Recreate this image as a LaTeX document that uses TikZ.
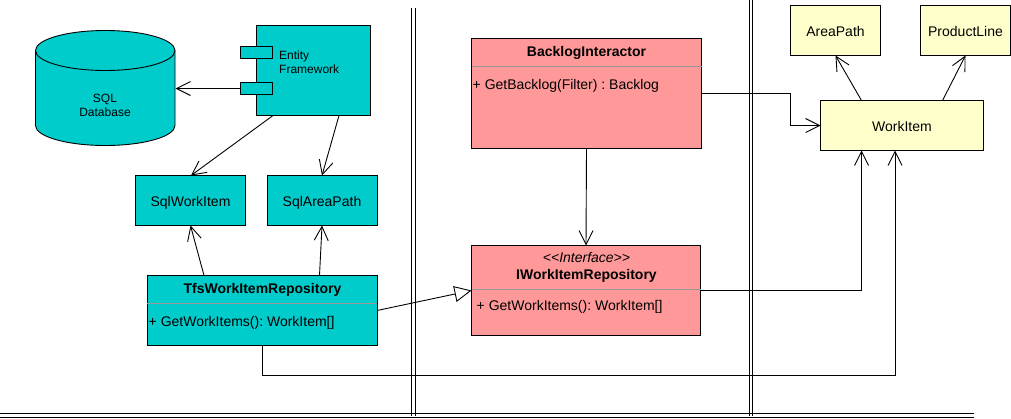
\documentclass[tikz,border=0pt]{standalone}
\usepackage{fontspec}
\setmainfont{Liberation Sans}
\usetikzlibrary{positioning,calc,arrows.meta}
\definecolor{TealFill}{RGB}{0,204,204}
\definecolor{PinkFill}{RGB}{255,153,153}
\definecolor{YellowFill}{RGB}{255,255,204}
\tikzset{
    box/.style={draw=black, line width=0.9pt, inner sep=0pt, outer sep=0pt, text height=11pt, text depth=0pt, font=\fontsize{14}{16}\selectfont},
    teal box/.style={box, fill=TealFill},
    pink box/.style={box, fill=PinkFill},
    yellow box/.style={box, fill=YellowFill},
    small text/.style={inner sep=0pt, align=left, font=\fontsize{12}{14}\selectfont},
    title text/.style={inner sep=0pt, text height=11pt, text depth=0pt, font=\fontsize{14}{16}\selectfont\bfseries},
    method text/.style={inner sep=0pt, anchor=west, text height=11pt, text depth=0pt, font=\fontsize{14}{16}\selectfont\frenchspacing},
    assoc/.style={draw=black, line width=0.9pt, -{Straight Barb[length=14pt,width=14pt]}},
    realize/.style={draw=black, line width=0.9pt, -{Triangle[open,length=17pt,width=16pt]}},
    rule/.style={draw=black, line width=0.9pt},
    slot/.style={draw=gray!80, line width=0.9pt}
}
\begin{document}
\begin{tikzpicture}[x=1pt, y=-1pt]
    \useasboundingbox (0,0) rectangle (1011,418);

    % --- separators ---
    \foreach \xpos/\ystart in {411.5/8, 415.5/8, 749/0, 752.5/0}
        \draw[rule] (\xpos,\ystart) -- (\xpos,415.5);
    \draw[rule] (0,413.5) -- (973.5,413.5);
    \draw[rule] (0,417.5) -- (973.5,417.5);

    % --- database and framework ---
    \draw[rule, fill=TealFill] (35.5,50.5) arc[start angle=180, end angle=360, x radius=69.75, y radius=20]
        -- (175,125.5) arc[start angle=0, end angle=180, x radius=69.75, y radius=20] -- cycle;
    \draw[rule] (35.5,50.5) arc[start angle=180, end angle=0, x radius=69.75, y radius=20];
    \coordinate (sqldb) at (175.5,88.5);
    \node[small text, align=center] (sqldblabel) at (105,105.8) {SQL\\Database};

    \node[teal box, minimum width=114pt, minimum height=90pt] (efw) at (313.5,70.5) {};
    \node[teal box, minimum width=32pt, minimum height=12pt] (efwporta) at (256.5,52.5) {};
    \node[teal box, minimum width=32pt, minimum height=12pt] (efwportb) at (256.5,88.5) {};
    \node[small text, anchor=west] (efwlabel) at (279,62.5) {Entity\\Framework};

    % --- sql classes ---
    \node[teal box, minimum width=110pt, minimum height=50pt] (sqlwork) at (190.5,200.5) {SqlWorkItem};
    \node[teal box, minimum width=110pt, minimum height=50pt] (sqlarea) at (322,200.5) {SqlAreaPath};

    % --- repository ---
    \node[teal box, minimum width=230pt, minimum height=70pt] (tfs) at (262,310.5) {};
    \node[title text] (tfstitle) at (262.5,288) {TfsWorkItemRepository};
    \node[method text] (tfsmethod) at (148.5,320.5) {+ GetWorkItems(): WorkItem[]};
    \draw[slot] ([yshift=-28pt]tfs.north west) -- ([yshift=-28pt]tfs.north east);

    % --- interactor and interface ---
    \node[pink box, minimum width=230pt, minimum height=110pt] (backlog) at (586.5,93.5) {};
    \node[title text] (backlogtitle) at (586.5,50.5) {BacklogInteractor};
    \node[method text] (backlogmethod) at (472.5,84) {+ GetBacklog(Filter) : Backlog};
    \draw[slot] ([yshift=-28pt]backlog.north west) -- ([yshift=-28pt]backlog.north east);

    \node[pink box, minimum width=229pt, minimum height=90pt] (iwork) at (586,290.5) {};
    \node[inner sep=0pt, text height=11pt, text depth=0pt, font=\fontsize{14}{16}\selectfont\itshape] (iworkstereo) at (586.5,257.2) {{<}{<}Interface{>}{>}};
    \node[title text] (iworktitle) at (586.5,273.5) {IWorkItemRepository};
    \node[method text] (iworkmethod) at (476.5,304.5) {+ GetWorkItems(): WorkItem[]};
    \draw[slot] ([yshift=-44pt]iwork.north west) -- ([yshift=-44pt]iwork.north east);

    % --- domain classes ---
    \node[yellow box, minimum width=90pt, minimum height=50pt] (areapath) at (835.5,30.5) {AreaPath};
    \node[yellow box, minimum width=90pt, minimum height=50pt] (productline) at (965.5,30.5) {ProductLine};
    \node[yellow box, minimum width=163pt, minimum height=50pt] (workitem) at (902,125.5) {WorkItem};

    % --- connectors ---
    \draw[assoc] (efwportb.west) -- (sqldb);
    \draw[assoc] ([xshift=16.5pt]efw.south west) -- ([xshift=55.5pt]sqlwork.north west);
    \draw[assoc] ([xshift=82.5pt]efw.south west) -- (sqlarea.north);
    \draw[assoc] ([xshift=57pt]tfs.north west) -- (sqlwork.south);
    \draw[assoc] ([xshift=172.5pt]tfs.north west) -- (sqlarea.south);
    \draw[realize] (tfs.east) -- (iwork.west);
    \draw[assoc] (tfs.south) -- ++(0,30) -| ([xshift=-7pt]workitem.south);
    \draw[assoc] (iwork.east) -| ([xshift=-40.5pt]workitem.south);
    \draw[assoc] (backlog.east) -- ++(89,0) |- (workitem.west);
    \draw[assoc] (backlog.south) -- (iwork.north);
    \draw[assoc] ([xshift=41pt]workitem.north west) -- (areapath.south);
    \draw[assoc] ([xshift=122pt]workitem.north west) -- (productline.south);
\end{tikzpicture}
\end{document}
